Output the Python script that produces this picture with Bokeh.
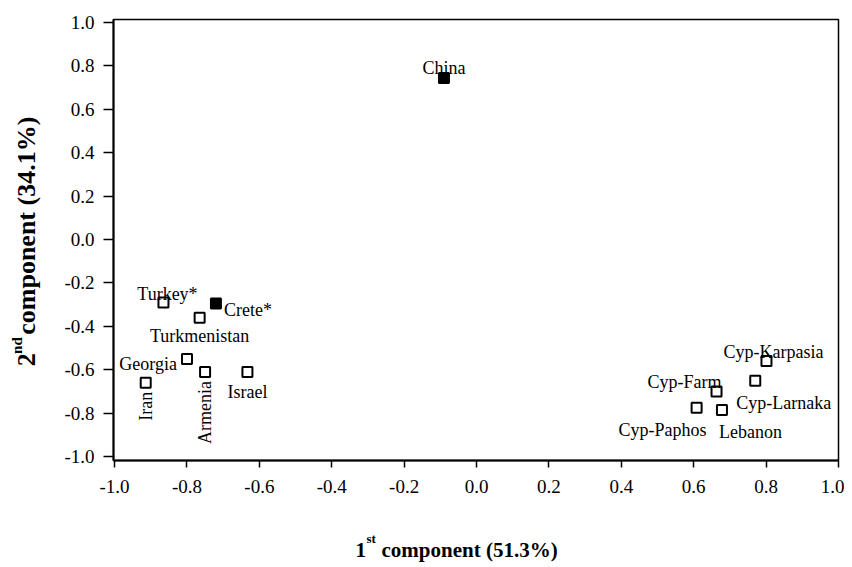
import math
from bokeh.plotting import figure
from bokeh.layouts import row, column
from bokeh.models import Range1d, Label, FixedTicker, CustomJSTickFormatter
from bokeh.core.properties import value
from bokeh.embed import file_html
from bokeh.resources import INLINE

# ---- data ----
names = ["China", "Turkey*", "Crete*", "Turkmenistan", "Georgia", "Armenia",
         "Israel", "Iran", "Cyp-Karpasia", "Cyp-Larnaka", "Cyp-Farm",
         "Cyp-Paphos", "Lebanon"]
comp1 = [-0.09, -0.865, -0.72, -0.765, -0.80, -0.75, -0.633, -0.914,
         0.801, 0.770, 0.663, 0.608, 0.678]
comp2 = [0.745, -0.29, -0.295, -0.36, -0.55, -0.61, -0.61, -0.66,
         -0.56, -0.65, -0.70, -0.775, -0.785]
filled = [True, False, True, False, False, False, False, False,
          False, False, False, False, False]
x_ticks = [-1.0, -0.8, -0.6, -0.4, -0.2, 0.0, 0.2, 0.4, 0.6, 0.8, 1.0]
y_ticks = [-1.0, -0.8, -0.6, -0.4, -0.2, 0.0, 0.2, 0.4, 0.6, 0.8, 1.0]
x_title = ("1", "st", "component (51.3%)")
y_title = ("2", "nd", "component (34.1%)")

# ---- label placement (style/layout) ----
# name: (x_offset, y_offset, align, baseline, angle)
label_layout = {
    "China":        (0, 10, "center", "alphabetic", 0),
    "Turkey*":      (4, 9, "center", "alphabetic", 0),
    "Crete*":       (8, -6, "left", "alphabetic", 0),
    "Turkmenistan": (0, -18, "center", "alphabetic", 0),
    "Georgia":      (-10, -5, "right", "alphabetic", 0),
    "Armenia":      (0, -9, "right", "middle", math.pi / 2),
    "Israel":       (0, -20, "center", "alphabetic", 0),
    "Iran":         (0, -9, "right", "middle", math.pi / 2),
    "Cyp-Karpasia": (7, 9, "center", "alphabetic", 0),
    "Cyp-Larnaka":  (-19, -22, "left", "alphabetic", 0),
    "Cyp-Farm":     (-32, 9, "center", "alphabetic", 0),
    "Cyp-Paphos":   (-34, -22, "center", "alphabetic", 0),
    "Lebanon":      (-3, -22, "left", "alphabetic", 0),
}

FONT = "Liberation Serif"
TOTAL_W = 844
YT_W = 50                      # width of the y-title strip
MAIN_H = 505
XT_H = 59                      # height of the x-title strip
BL, BR, BT, BB = 113 - YT_W, 6, 19, 45
X0, X1 = -1.003, 1.0
Y0, Y1 = -1.018, 1.014

p = figure(width=TOTAL_W - YT_W, height=MAIN_H, output_backend="svg",
           toolbar_location=None,
           x_range=Range1d(X0, X1), y_range=Range1d(Y0, Y1),
           min_border_left=BL, min_border_right=BR,
           min_border_top=BT, min_border_bottom=BB)
p.background_fill_color = "white"
p.border_fill_color = "white"
p.outline_line_color = "black"
p.outline_line_width = 1.5
p.xgrid.visible = False
p.ygrid.visible = False

fmt = CustomJSTickFormatter(code="return tick.toFixed(1);")
for ax, ticks in ((p.xaxis[0], x_ticks), (p.yaxis[0], y_ticks)):
    ax.ticker = FixedTicker(ticks=ticks)
    ax.formatter = fmt
    ax.minor_tick_line_color = None
    ax.major_tick_in = 0
    ax.axis_line_width = 2
    ax.axis_line_color = "black"
    ax.major_tick_line_width = 1.5
    ax.major_tick_line_color = "black"
    ax.major_label_text_font = FONT
    ax.major_label_text_font_size = "19px"
    ax.major_label_text_color = "black"
p.xaxis[0].major_tick_out = 7
p.xaxis[0].major_label_standoff = 12
p.yaxis[0].major_tick_out = 10
p.yaxis[0].major_label_standoff = 9

fill = ["black" if f else "white" for f in filled]
p.scatter(x=comp1, y=comp2, marker="square", size=10, fill_color=fill,
          line_color="black", line_width=2)

for n, xv, yv in zip(names, comp1, comp2):
    xo, yo, al, bl, ang = label_layout[n]
    p.add_layout(Label(x=xv, y=yv, text=n, x_offset=xo, y_offset=yo,
                       text_align=al, text_baseline=bl, angle=ang,
                       text_font=FONT, text_font_size="18px",
                       text_color="black"))


def strip(w, h):
    f = figure(width=w, height=h, output_backend="svg", toolbar_location=None,
               x_range=Range1d(0, w), y_range=Range1d(0, h),
               x_axis_type=None, y_axis_type=None,
               min_border=0, min_border_left=0, min_border_right=0,
               min_border_top=0, min_border_bottom=0)
    f.outline_line_color = None
    f.xgrid.visible = False
    f.ygrid.visible = False
    f.background_fill_color = "white"
    f.border_fill_color = "white"
    return f


def put(f, x, y, txt, size, angle=0.0):
    f.text(x=[x], y=[y], text=[txt], angle=angle,
           text_font=value(FONT), text_font_size=value(size),
           text_font_style=value("bold"), text_color="black",
           text_align=value("left"), text_baseline=value("alphabetic"))


# x title strip: page y 505..564 ; convert page coords to strip coords
xt = strip(TOTAL_W, XT_H)
def xs(py):
    return MAIN_H + XT_H - py
put(xt, 355, xs(549), x_title[0], "21px")
put(xt, 366, xs(538), x_title[1], "13px")
put(xt, 381, xs(549), x_title[2], "21px")

# y title strip: page x 0..50, y 0..505
yt = strip(YT_W, MAIN_H)
def ys(py):
    return MAIN_H - py
put(yt, 26, ys(397), y_title[0], "26px", math.pi / 2)
put(yt, 16, ys(383), y_title[1], "15px", math.pi / 2)
put(yt, 26, ys(361), y_title[2], "26px", math.pi / 2)

layout = column(row(yt, p), xt)
open("out.html", "w").write(file_html(layout, INLINE))
